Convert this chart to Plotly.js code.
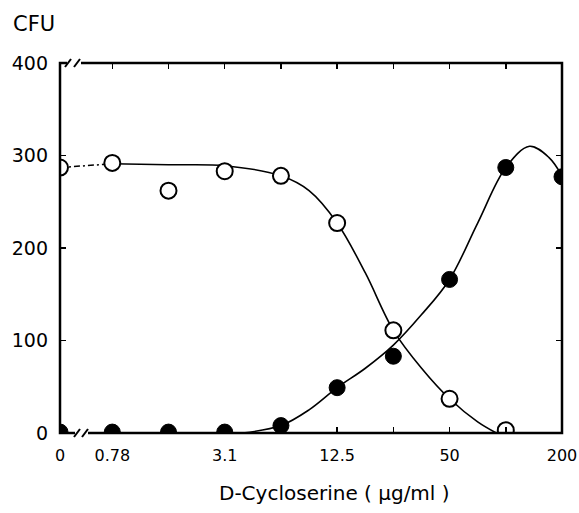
<!DOCTYPE html>
<html>
<head>
<meta charset="utf-8">
<script src="https://cdn.plot.ly/plotly-3.0.1.min.js"></script>
<style>html,body{margin:0;padding:0;background:#fff;}#chart{width:579px;height:513px;}</style>
</head>
<body>
<div id="chart"></div>
<script>
// Concentrations of D-cycloserine (µg/ml); 0 is drawn left of the axis break
const doses = [0, 0.78125, 1.5625, 3.125, 6.25, 12.5, 25, 50, 100, 200];
const openCFU = [287, 292, 262, 283, 278, 227, 111, 37, 3, null];
const filledCFU = [1, 1, 1, 1, 8, 49, 83, 166, 287, 277];

// Hand-drawn fitted curves
const openFitX = [0.78125, 1.5625, 3.125, 6.25, 8.84, 12.5, 17.7, 25, 35.4, 50, 70.7, 89];
const openFitY = [291, 290, 289, 278, 262, 227, 173, 111, 70, 37, 12, 0];
const filledFitX = [3.9, 6.25, 8.84, 12.5, 17.7, 25, 35.4, 50, 70.7, 100, 134, 170, 200];
const filledFitY = [0, 8, 25, 49, 70, 95, 128, 166, 227, 287, 310, 298, 278];

// Dashed connector from the zero-dose point to the first dose
const dashX = [0, 0.78125];
const dashY = [287, 291];

const tickDoses = [0, 0.78125, 1.5625, 3.125, 6.25, 12.5, 25, 50, 100, 200];
const tickLabels = ["0", "0.78", "", "3.1", "", "12.5", "", "50", "", "200"];
const yTicks = [0, 100, 200, 300, 400];

const ZERO_X = 0.41; // where dose 0 sits on the log axis (left of break)
const pos = d => (d === 0 ? ZERO_X : d);

const FONT = "DejaVu Sans, sans-serif";

const traces = [
  {x: dashX.map(pos), y: dashY, mode: "lines", line: {color: "#000", width: 1.5, dash: "6px,3px,2px,3px"}},
  {x: openFitX, y: openFitY, mode: "lines", line: {color: "#000", width: 1.6, shape: "spline", smoothing: 1}},
  {x: filledFitX, y: filledFitY, mode: "lines", line: {color: "#000", width: 1.6, shape: "spline", smoothing: 1}},
  {x: doses.map(pos), y: openCFU, mode: "markers", marker: {size: 16, color: "#fff", line: {color: "#000", width: 2}}},
  {x: doses.map(pos), y: filledCFU, mode: "markers", marker: {size: 16, color: "#000", line: {color: "#000", width: 1}}}
];

const L = 60, R = 17, T = 63, B = 80, W = 579, H = 513;
const pw = W - L - R, ph = H - T - B;
const px = p => (p - L) / pw;      // pixel x -> paper x
const py = p => (H - B - p) / ph;  // pixel y -> paper y

const noLine = {color: "rgba(0,0,0,0)", width: 0};
const shapes = [
  // masks that clip markers at the frame edges
  {type: "rect", xref: "paper", yref: "paper", x0: px(50.8), x1: 0, y0: py(445), y1: py(150), fillcolor: "#fff", line: noLine, layer: "above"},
  {type: "rect", xref: "paper", yref: "paper", x0: px(50.8), x1: px(579), y0: py(445), y1: 0, fillcolor: "#fff", line: noLine, layer: "above"},
  {type: "rect", xref: "paper", yref: "paper", x0: 1, x1: px(579), y0: 0, y1: py(150), fillcolor: "#fff", line: noLine, layer: "above"},
  // frame
  {type: "rect", xref: "paper", yref: "paper", x0: 0, x1: 1, y0: 0, y1: 1, line: {color: "#000", width: 2.5}, layer: "above"},
  // bottom axis break
  {type: "line", xref: "paper", yref: "paper", x0: px(75), x1: px(88), y0: 0, y1: 0, line: {color: "#fff", width: 5}, layer: "above"},
  {type: "line", xref: "paper", yref: "paper", x0: px(74), x1: px(80), y0: py(437), y1: py(429), line: {color: "#000", width: 2}, layer: "above"},
  {type: "line", xref: "paper", yref: "paper", x0: px(82), x1: px(88), y0: py(437), y1: py(429), line: {color: "#000", width: 2}, layer: "above"},
  // top axis break
  {type: "line", xref: "paper", yref: "paper", x0: px(67), x1: px(81), y0: 1, y1: 1, line: {color: "#fff", width: 5}, layer: "above"},
  {type: "line", xref: "paper", yref: "paper", x0: px(65), x1: px(71), y0: py(67), y1: py(59), line: {color: "#000", width: 2}, layer: "above"},
  {type: "line", xref: "paper", yref: "paper", x0: px(74), x1: px(80), y0: py(67), y1: py(59), line: {color: "#000", width: 2}, layer: "above"}
];

const layout = {
  width: W, height: H,
  margin: {l: L, r: R, t: T, b: B},
  paper_bgcolor: "#fff", plot_bgcolor: "#fff",
  showlegend: false,
  font: {family: FONT, color: "#000"},
  xaxis: {
    type: "log",
    range: [Math.log10(ZERO_X), Math.log10(200)],
    tickvals: tickDoses.map(pos), ticktext: tickLabels,
    ticks: "inside", ticklen: 6, tickwidth: 1.5, tickcolor: "#000",
    showline: false, mirror: "ticks",
    showgrid: false, zeroline: false,
    tickfont: {size: 16, family: FONT},
    ticklabelstandoff: 11
  },
  yaxis: {
    range: [0, 400],
    tickvals: yTicks,
    ticks: "inside", ticklen: 6, tickwidth: 1.5, tickcolor: "#000",
    showline: false, mirror: "ticks",
    showgrid: false, zeroline: false,
    tickfont: {size: 19, family: FONT},
    ticklabelstandoff: 11
  },
  annotations: [
    {text: "CFU", xref: "paper", yref: "paper", x: px(11), y: py(24), xanchor: "left", yanchor: "middle", showarrow: false, font: {size: 21, family: FONT}},
    {text: "D-Cycloserine ( µg/ml )", xref: "paper", yref: "paper", x: px(334), y: py(493), xanchor: "center", yanchor: "middle", showarrow: false, font: {size: 20, family: FONT}}
  ],
  shapes: shapes
};

Plotly.newPlot("chart", traces, layout, {staticPlot: true, displayModeBar: false});
</script>
</body>
</html>
